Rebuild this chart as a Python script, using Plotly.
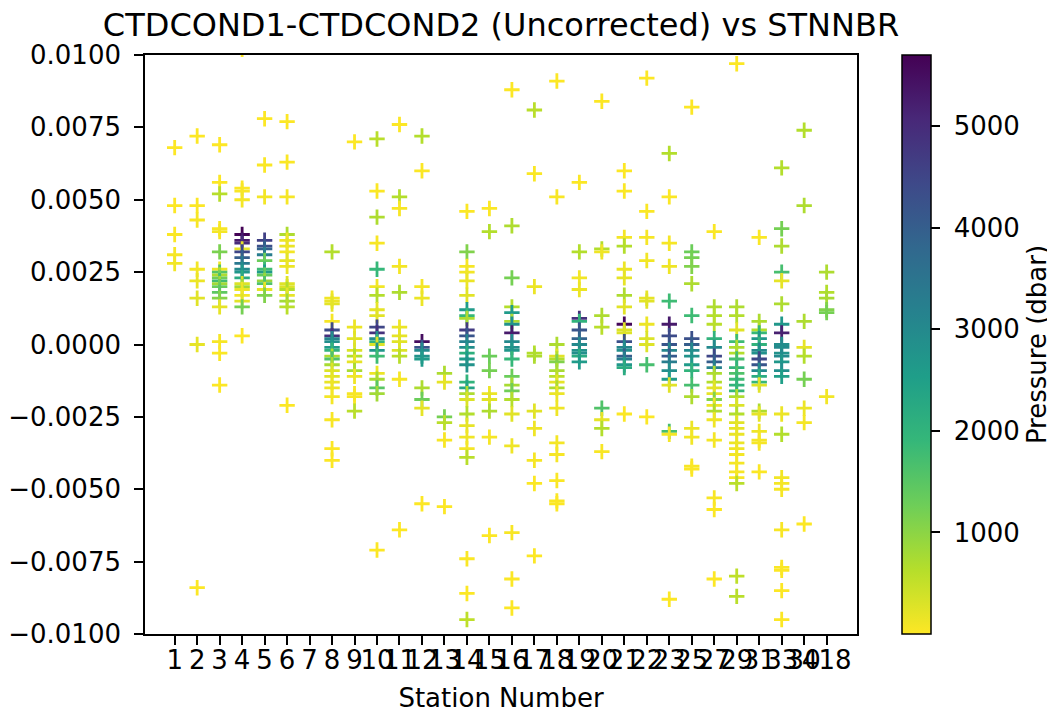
import numpy as np
import plotly.graph_objects as go

# ---------------- data ----------------
STATIONS = ["1", "2", "3", "4", "5", "6", "7", "8", "9", "10", "11", "12", "13", "14",
            "15", "16", "17", "18", "19", "20", "21", "22", "23", "25", "27", "29",
            "31", "33", "30", "418"]

DIFF_1 = [0.0068, 0.0048, 0.0038, 0.0031, 0.0028]
PRES_1 = [3, 10, 30, 60, 100]

DIFF_2 = [0.0072, 0.0048, 0.0043, 0.0026, 0.0022, 0.0016, 0.0000, -0.0084]
PRES_2 = [5, 20, 50, 90, 150, 250, 200, 8]

DIFF_3 = [0.0069, 0.0056, 0.0052, 0.0040, 0.0039, 0.0032, 0.0026, 0.0025, 0.0024, 0.0023,
          0.0022, 0.0021, 0.0020, 0.0018, 0.0016, 0.0013, 0.0001, -0.0003, -0.0014]
PRES_3 = [4, 15, 620, 40, 80, 1150, 120, 1550, 700, 1250, 1750, 800, 1300, 1450, 1050,
          200, 60, 25, 10]

DIFF_4 = [0.0102, 0.0054, 0.0053, 0.0050, 0.0038, 0.0036, 0.0035, 0.0033, 0.0032, 0.0030,
          0.0028, 0.0026, 0.0025, 0.0023, 0.0021, 0.0020, 0.0019, 0.0017, 0.0015, 0.0013,
          0.0003]
PRES_4 = [5, 20, 40, 80, 5690, 5300, 5000, 200, 4500, 4000, 3400, 3000, 2700, 2200, 300,
          800, 150, 100, 250, 1200, 12]

DIFF_5 = [0.0078, 0.0062, 0.0051, 0.0036, 0.0034, 0.0033, 0.0031, 0.0029, 0.0026, 0.0025,
          0.0024, 0.0022, 0.0021, 0.0019, 0.0017]
PRES_5 = [6, 30, 90, 4600, 4300, 3900, 3300, 1300, 1800, 2600, 1400, 900, 1600, 200, 1100]

DIFF_6 = [0.0077, 0.0063, 0.0051, 0.0038, 0.0036, 0.0034, 0.0032, 0.0029, 0.0027, 0.0021,
          0.0020, 0.0019, 0.0017, 0.0015, 0.0013, -0.0021]
PRES_6 = [8, 25, 60, 700, 120, 180, 90, 220, 150, 260, 300, 650, 200, 800, 600, 15]

DIFF_7 = [None]
PRES_7 = [None]

DIFF_8 = [0.0032, 0.0016, 0.0015, 0.0014, 0.0008, 0.0005, 0.0003, 0.0002, 0.0001, -0.0001,
          -0.0002, -0.0004, -0.0005, -0.0007, -0.0009, -0.0011, -0.0013, -0.0015, -0.0018,
          -0.0026, -0.0036, -0.0040]
PRES_8 = [650, 100, 150, 220, 60, 4400, 4900, 3100, 2900, 2600, 2000, 700, 1600, 750, 300,
          250, 180, 120, 80, 40, 20, 8]

DIFF_9 = [0.0070, 0.0006, 0.0002, -0.0002, -0.0004, -0.0006, -0.0009, -0.0011, -0.0017,
          -0.0018, -0.0023]
PRES_9 = [10, 150, 250, 300, 650, 200, 750, 120, 60, 40, 600]

DIFF_10 = [0.0071, 0.0053, 0.0044, 0.0035, 0.0026, 0.0020, 0.0017, 0.0012, 0.0010, 0.0006,
           0.0004, 0.0002, 0.0001, 0.0000, -0.0002, -0.0004, -0.0010, -0.0012, -0.0015,
           -0.0017, -0.0071]
PRES_10 = [600, 20, 700, 50, 1900, 100, 650, 200, 250, 4500, 4900, 3000, 2000, 300, 2700,
           1800, 150, 750, 1500, 800, 6]

DIFF_11 = [0.0076, 0.0051, 0.0047, 0.0027, 0.0018, 0.0006, 0.0003, 0.0001, -0.0002, -0.0004,
           -0.0012, -0.0064]
PRES_11 = [10, 650, 40, 80, 700, 150, 200, 250, 300, 600, 60, 5]

DIFF_12 = [0.0072, 0.0060, 0.0020, 0.0016, 0.0001, -0.0001, -0.0002, -0.0004, -0.0005,
           -0.0015, -0.0019, -0.0022, -0.0055]
PRES_12 = [650, 20, 80, 150, 5500, 4200, 3000, 2800, 2600, 700, 1300, 200, 6]

DIFF_13 = [-0.0010, -0.0013, -0.0025, -0.0027, -0.0033, -0.0056]
PRES_13 = [700, 200, 1200, 600, 50, 8]

DIFF_14 = [0.0046, 0.0032, 0.0027, 0.0025, 0.0022, 0.0017, 0.0012, 0.0010, 0.0009, 0.0005,
           0.0003, 0.0001, -0.0001, -0.0003, -0.0005, -0.0007, -0.0013, -0.0015, -0.0017,
           -0.0019, -0.0024, -0.0028, -0.0032, -0.0036, -0.0039, -0.0074, -0.0086, -0.0095]
PRES_14 = [20, 1100, 60, 100, 150, 250, 2600, 1900, 700, 4700, 4200, 3200, 2900, 2100,
           2600, 2800, 2000, 2400, 700, 300, 650, 200, 120, 80, 600, 30, 10, 550]

DIFF_15 = [0.0047, 0.0039, -0.0004, -0.0009, -0.0017, -0.0019, -0.0023, -0.0032, -0.0066]
PRES_15 = [20, 650, 1300, 1200, 150, 250, 700, 60, 8]

DIFF_16 = [0.0088, 0.0041, 0.0023, 0.0013, 0.0011, 0.0008, 0.0007, 0.0004, 0.0001, -0.0001,
           -0.0002, -0.0005, -0.0011, -0.0014, -0.0016, -0.0019, -0.0024, -0.0035, -0.0065,
           -0.0081, -0.0091]
PRES_16 = [10, 700, 1200, 650, 2600, 700, 2800, 5300, 3000, 2900, 2700, 1900, 1300, 750,
           1250, 650, 250, 120, 50, 20, 6]

DIFF_17 = [0.0081, 0.0059, 0.0020, -0.0003, -0.0004, -0.0023, -0.0029, -0.0040, -0.0048,
           -0.0073]
PRES_17 = [600, 30, 150, 650, 700, 250, 120, 60, 20, 8]

DIFF_18 = [0.0091, 0.0051, 0.0000, -0.0004, -0.0005, -0.0006, -0.0009, -0.0011, -0.0013,
           -0.0015, -0.0017, -0.0022, -0.0034, -0.0038, -0.0047, -0.0054, -0.0055]
PRES_18 = [10, 40, 700, 250, 650, 1100, 750, 600, 200, 700, 150, 120, 80, 60, 30, 15, 5]

DIFF_19 = [0.0056, 0.0032, 0.0023, 0.0019, 0.0009, 0.0008, 0.0005, 0.0002, 0.0000, -0.0002,
           -0.0003, -0.0004, -0.0006]
PRES_19 = [20, 650, 100, 150, 4900, 2000, 4200, 3900, 3000, 2800, 2900, 2200, 2600]

DIFF_20 = [0.0084, 0.0033, 0.0032, 0.0010, 0.0006, -0.0022, -0.0026, -0.0029, -0.0037]
PRES_20 = [10, 650, 120, 700, 600, 1600, 200, 650, 40]

DIFF_21 = [0.0060, 0.0053, 0.0037, 0.0034, 0.0026, 0.0023, 0.0017, 0.0013, 0.0007, 0.0005,
           0.0004, 0.0001, -0.0001, -0.0002, -0.0004, -0.0005, -0.0007, -0.0008, -0.0024]
PRES_21 = [10, 30, 80, 650, 150, 200, 700, 250, 5600, 300, 280, 4300, 3100, 2900, 4000,
           3300, 2700, 2200, 20]

DIFF_22 = [0.0092, 0.0046, 0.0037, 0.0029, 0.0016, 0.0015, 0.0007, 0.0002, 0.0000, -0.0007,
           -0.0025]
PRES_22 = [8, 30, 60, 100, 200, 250, 150, 300, 280, 1700, 20]

DIFF_23 = [0.0066, 0.0051, 0.0035, 0.0027, 0.0015, 0.0007, 0.0003, 0.0000, -0.0002, -0.0004,
           -0.0006, -0.0009, -0.0012, -0.0014, -0.0030, -0.0031, -0.0088]
PRES_23 = [650, 20, 60, 120, 1800, 5300, 4400, 4200, 3100, 4100, 3300, 2900, 2600, 250,
           1700, 80, 8]

DIFF_25 = [0.0082, 0.0032, 0.0030, 0.0027, 0.0021, 0.0010, 0.0002, 0.0000, -0.0002, -0.0004,
           -0.0007, -0.0009, -0.0014, -0.0018, -0.0029, -0.0032, -0.0042, -0.0043]
PRES_25 = [10, 1300, 1200, 1100, 700, 1800, 4300, 4000, 3000, 2800, 2600, 2000, 1700, 700,
           150, 100, 40, 20]

DIFF_27 = [0.0039, 0.0013, 0.0010, 0.0007, 0.0002, -0.0001, -0.0004, -0.0006, -0.0008,
           -0.0010, -0.0013, -0.0015, -0.0017, -0.0019, -0.0021, -0.0023, -0.0026, -0.0033,
           -0.0053, -0.0057, -0.0081]
PRES_27 = [30, 700, 650, 600, 2000, 3000, 4500, 4000, 3200, 700, 650, 250, 200, 1100, 150,
           700, 120, 80, 40, 20, 8]

DIFF_29 = [0.0097, 0.0013, 0.0010, 0.0005, 0.0001, -0.0001, -0.0003, -0.0005, -0.0008,
           -0.0010, -0.0012, -0.0014, -0.0016, -0.0018, -0.0021, -0.0024, -0.0027, -0.0029,
           -0.0031, -0.0034, -0.0036, -0.0038, -0.0041, -0.0044, -0.0046, -0.0048, -0.0080,
           -0.0087]
PRES_29 = [8, 700, 650, 250, 1800, 700, 650, 1700, 2000, 1600, 1800, 2000, 1900, 700, 300,
           650, 250, 200, 180, 150, 120, 100, 80, 60, 40, 600, 550, 600]

DIFF_31 = [0.0037, 0.0008, 0.0005, 0.0004, 0.0002, 0.0000, -0.0002, -0.0003, -0.0005, -0.0007,
           -0.0009, -0.0011, -0.0013, -0.0014, -0.0023, -0.0024, -0.0030, -0.0033, -0.0034,
           -0.0044]
PRES_31 = [30, 700, 650, 1900, 2700, 2000, 3000, 2800, 4500, 4200, 3000, 2200, 1900, 250,
           700, 200, 120, 80, 60, 15]

DIFF_33 = [0.0061, 0.0040, 0.0034, 0.0025, 0.0022, 0.0014, 0.0007, 0.0004, -0.0000, -0.0001,
           -0.0003, -0.0004, -0.0006, -0.0009, -0.0011, -0.0024, -0.0031, -0.0046, -0.0048,
           -0.0050, -0.0064, -0.0077, -0.0078, -0.0085, -0.0095]
PRES_33 = [650, 1200, 700, 1700, 200, 700, 2700, 5200, 2900, 3000, 2800, 3000, 2700, 2900,
           2500, 150, 650, 100, 80, 60, 40, 30, 20, 10, 5]

DIFF_30 = [0.0074, 0.0048, 0.0008, -0.0001, -0.0004, -0.0012, -0.0022, -0.0027, -0.0062]
PRES_30 = [650, 700, 700, 200, 650, 1200, 150, 80, 10]

DIFF_418 = [0.0025, 0.0018, 0.0016, 0.0012, 0.0011, -0.0018]
PRES_418 = [700, 650, 750, 1100, 1200, 100]

DIFFS = [DIFF_1, DIFF_2, DIFF_3, DIFF_4, DIFF_5, DIFF_6, DIFF_7, DIFF_8, DIFF_9, DIFF_10,
         DIFF_11, DIFF_12, DIFF_13, DIFF_14, DIFF_15, DIFF_16, DIFF_17, DIFF_18, DIFF_19,
         DIFF_20, DIFF_21, DIFF_22, DIFF_23, DIFF_25, DIFF_27, DIFF_29, DIFF_31, DIFF_33,
         DIFF_30, DIFF_418]
PRESSURES = [PRES_1, PRES_2, PRES_3, PRES_4, PRES_5, PRES_6, PRES_7, PRES_8, PRES_9, PRES_10,
             PRES_11, PRES_12, PRES_13, PRES_14, PRES_15, PRES_16, PRES_17, PRES_18, PRES_19,
             PRES_20, PRES_21, PRES_22, PRES_23, PRES_25, PRES_27, PRES_29, PRES_31, PRES_33,
             PRES_30, PRES_418]

Y_TICKS = [0.01, 0.0075, 0.005, 0.0025, 0.0, -0.0025, -0.005, -0.0075, -0.01]
Y_TICK_LABELS = ["0.0100", "0.0075", "0.0050", "0.0025", "0.0000",
                 "\u22120.0025", "\u22120.0050", "\u22120.0075", "\u22120.0100"]
CBAR_TICKS = [1000, 2000, 3000, 4000, 5000]
CBAR_TICK_LABELS = ["1000", "2000", "3000", "4000", "5000"]
CBAR_RANGE = [0, 5700]

TITLE = "CTDCOND1-CTDCOND2 (Uncorrected) vs STNNBR"
X_TITLE = "Station Number"
CBAR_TITLE = "Pressure (dbar)"

# ---------------- build ----------------
xs, ys, ps = [], [], []
for stn, dlist, plist in zip(STATIONS, DIFFS, PRESSURES):
    for d, p in zip(dlist, plist):
        xs.append(stn)
        ys.append(np.nan if d is None else d)
        ps.append(np.nan if p is None else p)
ys = np.array(ys, dtype=float)
ps = np.array(ps, dtype=float)

pmin, pmax = CBAR_RANGE
FONT = "DejaVu Sans"
NBSP = "\u00a0"

# the page body has an 8 px default margin: figure is sized to fit the window
W, H = 1047, 705
ML, MR, MT, MB = 137, 198, 47, 79
PLOT_W = W - ML - MR

fig = go.Figure()
fig.add_trace(go.Scatter(
    x=xs, y=ys, mode="markers",
    marker=dict(
        symbol="cross-thin", size=11,
        color=ps, colorscale="Viridis", reversescale=True, cmin=pmin, cmax=pmax,
        showscale=True,
        line=dict(width=2.8, color=ps, colorscale="Viridis", reversescale=True,
                  cmin=pmin, cmax=pmax),
        colorbar=dict(
            x=(PLOT_W + 45) / PLOT_W, xanchor="left", xpad=0,
            y=0.5, yanchor="middle", ypad=0, len=1, lenmode="fraction",
            thickness=29, thicknessmode="pixels",
            outlinecolor="black", outlinewidth=1.5,
            tickmode="array", tickvals=CBAR_TICKS,
            ticktext=[NBSP + t for t in CBAR_TICK_LABELS],
            ticks="outside", ticklen=9, tickwidth=1.5, tickcolor="black",
            tickfont=dict(family=FONT, size=26, color="black"),
            title=dict(text=CBAR_TITLE, side="right",
                       font=dict(family=FONT, size=26, color="black")),
        ),
    ),
    showlegend=False, hoverinfo="x+y",
))

fig.update_layout(
    width=W, height=H,
    margin=dict(l=ML, r=MR, t=MT, b=MB, autoexpand=False),
    paper_bgcolor="white", plot_bgcolor="white",
    font=dict(family=FONT, size=26, color="black"),
    title=dict(text=TITLE, x=0.5, xref="paper", xanchor="center",
               y=1 - 17 / H, yref="container", yanchor="middle",
               font=dict(family=FONT, size=32, color="black")),
)
fig.update_xaxes(
    type="category", categoryorder="array", categoryarray=STATIONS,
    range=[-1.32, len(STATIONS) - 1 + 1.35], automargin=False,
    tickmode="array", tickvals=STATIONS, ticktext=STATIONS, tickangle=0,
    showline=True, linecolor="black", linewidth=1.6, mirror=True,
    ticks="outside", ticklen=9, tickwidth=1.5, tickcolor="black",
    ticklabelstandoff=-7,
    showgrid=False, zeroline=False,
    tickfont=dict(family=FONT, size=26, color="black"),
    title=dict(text=X_TITLE, standoff=16, font=dict(family=FONT, size=26, color="black")),
)
fig.update_yaxes(
    range=[-0.01, 0.01], automargin=False,
    tickmode="array", tickvals=Y_TICKS, ticktext=Y_TICK_LABELS,
    showline=True, linecolor="black", linewidth=1.6, mirror=True,
    ticks="outside", ticklen=9, tickwidth=1.5, tickcolor="black",
    ticklabelstandoff=8,
    showgrid=False, zeroline=False,
    tickfont=dict(family=FONT, size=26, color="black"),
)

fig.write_html("out.html")
